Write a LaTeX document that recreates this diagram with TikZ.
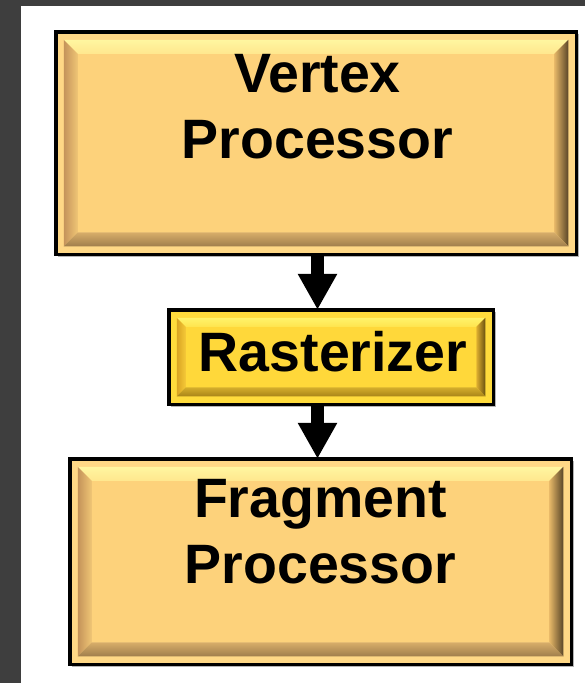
\documentclass[tikz,border=0pt]{standalone}
\usepackage{fontspec}
\setmainfont{Liberation Sans}
\usetikzlibrary{arrows.meta,calc}

% page frame
\definecolor{frameGrey}{HTML}{3E3E3E}
\definecolor{edgeGrey}{HTML}{B4B4B4}
% orange-beige bevel palette
\definecolor{orBand}{HTML}{FFD886}
\definecolor{orFace}{HTML}{FDD27B}
\definecolor{orTopOut}{HTML}{FFF6A0}
\definecolor{orTopIn}{HTML}{FFE78E}
\definecolor{orLeftOut}{HTML}{C4935A}
\definecolor{orLeftIn}{HTML}{F0C676}
\definecolor{orRightOut}{HTML}{5A4628}
\definecolor{orRightIn}{HTML}{E6B868}
\definecolor{orBotOut}{HTML}{A07E4C}
\definecolor{orBotIn}{HTML}{D8AE6A}
% golden-yellow bevel palette
\definecolor{yeBand}{HTML}{FFDB3C}
\definecolor{yeFace}{HTML}{FFD83A}
\definecolor{yeTopOut}{HTML}{FFF36A}
\definecolor{yeTopIn}{HTML}{FFE44E}
\definecolor{yeLeftOut}{HTML}{D9A422}
\definecolor{yeLeftIn}{HTML}{F6C938}
\definecolor{yeRightOut}{HTML}{6A5210}
\definecolor{yeRightIn}{HTML}{E0B030}
\definecolor{yeBotOut}{HTML}{A98418}
\definecolor{yeBotIn}{HTML}{D6AE2C}

% bevelled inner frame of a box node
% #1 node name, #2 palette prefix, #3 inset from border, #4 bevel depth
\newcommand\bevelframe[4]{%
  \coordinate (#1-A) at ($(#1.north west)+(#3,#3)$);
  \coordinate (#1-B) at ($(#1.north east)+(-#3,#3)$);
  \coordinate (#1-C) at ($(#1.south east)+(-#3,-#3)$);
  \coordinate (#1-D) at ($(#1.south west)+(#3,-#3)$);
  \coordinate (#1-a) at ($(#1-A)+(#4,#4)$);
  \coordinate (#1-b) at ($(#1-B)+(-#4,#4)$);
  \coordinate (#1-c) at ($(#1-C)+(-#4,-#4)$);
  \coordinate (#1-d) at ($(#1-D)+(#4,-#4)$);
  \shade[top color=#2TopOut, bottom color=#2TopIn]
    (#1-A) -- (#1-B) -- (#1-b) -- (#1-a) -- cycle;
  \shade[left color=#2LeftOut, right color=#2LeftIn]
    (#1-A) -- (#1-a) -- (#1-d) -- (#1-D) -- cycle;
  \shade[left color=#2RightIn, right color=#2RightOut]
    (#1-B) -- (#1-C) -- (#1-c) -- (#1-b) -- cycle;
  \shade[top color=#2BotIn, bottom color=#2BotOut]
    (#1-D) -- (#1-d) -- (#1-c) -- (#1-C) -- cycle;
  \fill[#2Face] (#1-a) rectangle (#1-c);
  \draw[edgeGrey, line width=1pt]
    ($(#1.north east)+(2.25,2)$) -- ($(#1.south east)+(2.25,2.25)$)
    -- ($(#1.south west)+(2,2.25)$);
}

\begin{document}
\begin{tikzpicture}[x=1pt, y=-1pt,
  stagebox/.style={draw=black, line width=3.5pt, inner sep=0pt, outer sep=0pt},
  stagetext/.style={anchor=north, align=center, inner sep=0pt,
    font=\fontsize{55.5}{65.5}\selectfont\bfseries, text=black},
  bigarrow/.style={line width=13.5pt, draw=black,
    -{Triangle[length=36pt, width=37pt]}}]

\useasboundingbox (0,0) rectangle (585,683);
\fill[white] (0,0) rectangle (585,683);
\fill[frameGrey] (0,0) rectangle (21,683);
\fill[frameGrey] (0,0) rectangle (585,6);

% stages
\node[stagebox, fill=orBand, minimum width=520.5pt, minimum height=222.5pt]
  (vp) at (316,143) {};
\node[stagebox, fill=yeBand, minimum width=324.5pt, minimum height=94.5pt]
  (rz) at (331,357) {};
\node[stagebox, fill=orBand, minimum width=501.5pt, minimum height=205.5pt]
  (fp) at (320.5,561.5) {};

\bevelframe{vp}{or}{8}{14}
\bevelframe{rz}{ye}{8}{9}
\bevelframe{fp}{or}{8}{14}

\node[stagetext] (vpt) at (317.5,54.5) {Vertex\\Processor};
\node[stagetext] (rzt) at (333,331.5) {Rasterizer};
\node[stagetext] (fpt) at (320.5,479.5) {Fragment\\Processor};

% data flow
\draw[bigarrow] ([xshift=1.5pt]vp.south) -- ([xshift=1.5pt]vp.south |- rz.north);
\draw[bigarrow] ([xshift=-13.5pt]rz.south) -- ([xshift=-13.5pt]rz.south |- fp.north);
\end{tikzpicture}
\end{document}
